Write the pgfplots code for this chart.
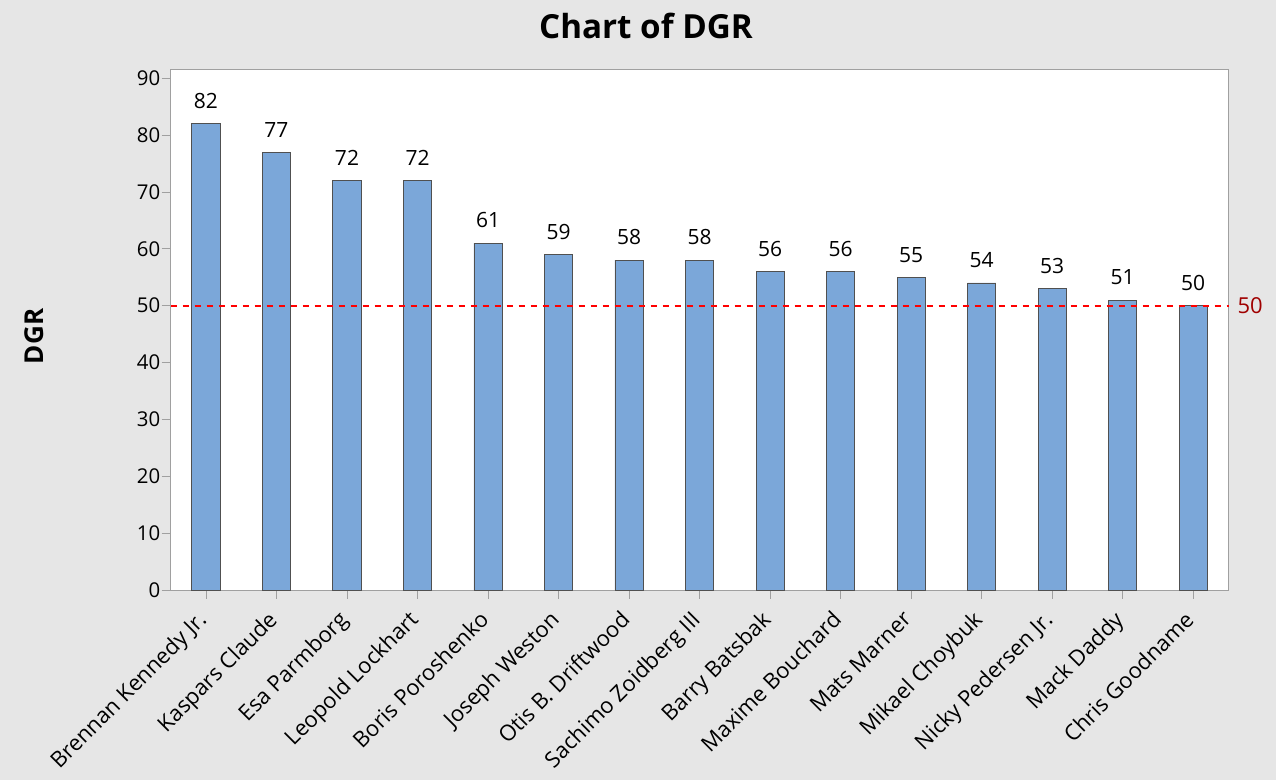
\documentclass[border=0pt]{standalone}
\usepackage{pgfplots}
\pgfplotsset{compat=1.18}
\usepackage{fontspec}
\setmainfont{Open Sans}
\definecolor{bg}{HTML}{E6E6E6}
\definecolor{barc}{HTML}{7BA7D9}
\definecolor{bardraw}{HTML}{505050}
\definecolor{axgray}{HTML}{A0A0A0}
\definecolor{darkred}{HTML}{A00000}
\begin{document}
\begin{tikzpicture}[x=1pt,y=1pt]
\fill[bg] (0,0) rectangle (638,390);
\useasboundingbox (0,0) rectangle (638,390);
\node[font=\bfseries\fontsize{16.6}{20}\selectfont] at (323,377) {Chart of DGR};
\begin{axis}[
  at={(85.35pt,95pt)}, anchor=south west, scale only axis,
  width=528.9pt, height=260.35pt,
  ymin=0, ymax=91.58, xmin=-0.5, xmax=14.5,
  axis background/.style={fill=white},
  axis line style={axgray},
  ytick={0,10,...,90},
  xtick=data,
  xticklabels={Brennan Kennedy Jr., Kaspars Claude, Esa Parmborg, Leopold Lockhart, Boris Poroshenko, Joseph Weston, Otis B. Driftwood, Sachimo Zoidberg III, Barry Batsbak, Maxime Bouchard, Mats Marner, Mikael Choybuk, Nicky Pedersen Jr., Mack Daddy, Chris Goodname},
  x tick label style={rotate=45, anchor=north east, font=\fontsize{11}{13}\selectfont, inner xsep=7pt, inner ysep=0pt},
  y tick label style={font=\fontsize{10.2}{12}\selectfont, inner sep=2.5pt, xshift=2pt},
  /pgf/number format/assume math mode=true,
  tick align=outside,
  tick style={axgray, thin},
  major tick length=4.5pt,
  xtick pos=bottom, ytick pos=left,
  ylabel={DGR},
  ylabel style={at={(axis description cs:-0.1288,0.487)}, anchor=center, font=\bfseries\fontsize{13}{15}\selectfont},
  clip=false,
]
\addplot[ybar, bar width=0.4, fill=barc, draw=bardraw, thin,
  nodes near coords,
  every node near coord/.append style={font=\fontsize{10.5}{12}\selectfont, black, yshift=4pt}] coordinates {
(0,82) (1,77) (2,72) (3,72) (4,61) (5,59) (6,58) (7,58) (8,56) (9,56) (10,55) (11,54) (12,53) (13,51) (14,50)};
\addplot[draw=red, mark=none, line width=0.8pt, dashed, forget plot] coordinates {(-0.5,50) (14.5,50)};
\node[anchor=west, text=darkred, font=\fontsize{11}{13}\selectfont, xshift=1pt] at (axis cs:14.5,50) {50};
\end{axis}
\end{tikzpicture}
\end{document}
